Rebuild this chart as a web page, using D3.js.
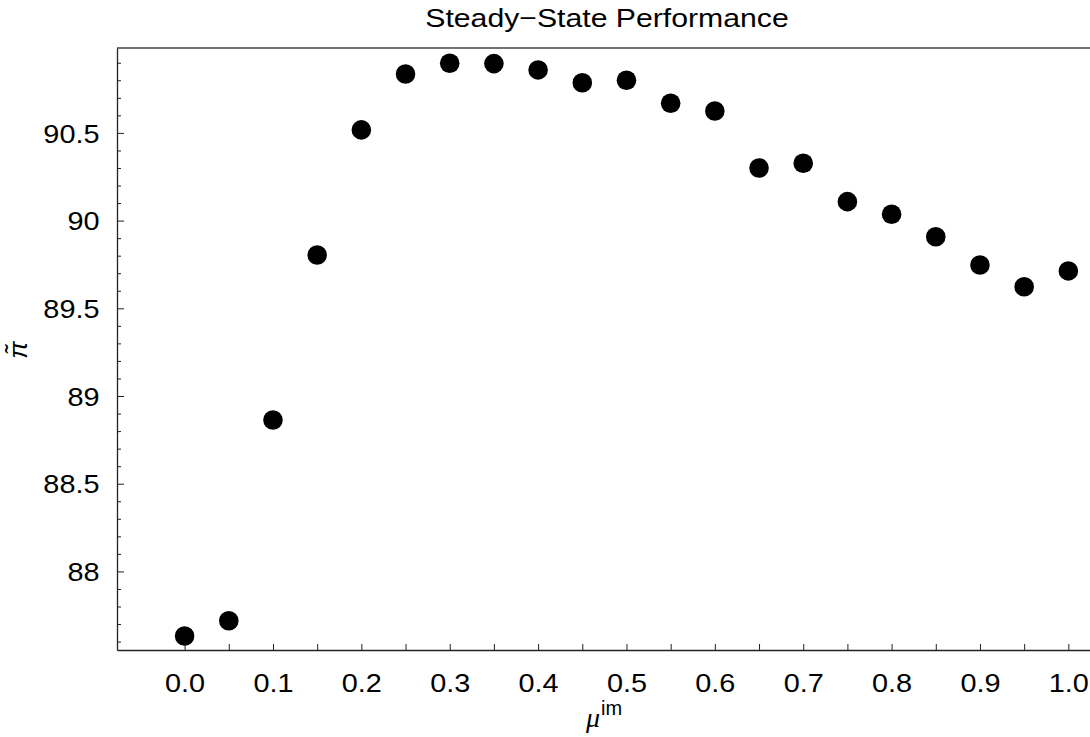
<!DOCTYPE html>
<html>
<head>
<meta charset="utf-8">
<script src="https://cdn.jsdelivr.net/npm/d3@7"></script>
<style>
html,body{margin:0;padding:0;background:#fff;}
svg{display:block;font-family:"Liberation Sans",Arial,sans-serif;}
</style>
</head>
<body>
<svg id="chart" width="1090" height="737"></svg>
<script>
const title = "Steady\u2212State Performance";
const muValues = [0.0,0.05,0.1,0.15,0.2,0.25,0.3,0.35,0.4,0.45,0.5,0.55,0.6,0.65,0.7,0.75,0.8,0.85,0.9,0.95,1.0];
const piValues = [87.632,87.719,88.863,89.804,90.517,90.836,90.897,90.895,90.859,90.786,90.80,90.669,90.625,90.300,90.327,90.108,90.036,89.908,89.747,89.623,89.713];
const xTickLabels = ["0.0","0.1","0.2","0.3","0.4","0.5","0.6","0.7","0.8","0.9","1.0"];
const yTickLabels = ["88","88.5","89","89.5","90","90.5"];

const svg = d3.select("#chart");
const pLeft = 117, pRight = 1090, pTop = 48, pBottom = 650;
const SX = 1.11;

const x = d3.scaleLinear().domain([-0.0765, 1.0245]).range([pLeft, pRight]);
const y = d3.scaleLinear().domain([87.552, 90.984]).range([pBottom, pTop]);

// title
svg.append("g").attr("transform", "translate(607,27) scale(1.14,1)")
  .append("text").attr("text-anchor", "middle")
  .attr("font-size", 26.5).attr("fill", "#000").text(title);

// frame top line
svg.append("line").attr("x1", pLeft).attr("x2", pRight).attr("y1", pTop).attr("y2", pTop)
  .attr("stroke", "#444").attr("stroke-width", 1.5);

// x axis
const xMinor = d3.range(0, 21).map(i => i * 0.05);
const xAxis = d3.axisBottom(x).tickValues(xMinor).tickSize(-6).tickSizeOuter(0)
  .tickFormat(d => { const i = Math.round(d * 20); return i % 2 === 0 ? xTickLabels[i / 2] : ""; });
const gx = svg.append("g").attr("transform", `translate(0,${pBottom})`).call(xAxis);
gx.select(".domain").attr("stroke", "#222").attr("stroke-width", 1.3);
gx.selectAll(".tick line").attr("stroke", "#222").attr("stroke-width", 1);
gx.selectAll(".tick text").attr("font-size", 26).attr("fill", "#000").attr("y", 42).attr("dy", 0)
  .attr("transform", `scale(${SX},1)`)
  .attr("font-family", "Liberation Sans, Arial, sans-serif");

// y axis
const yMinor = d3.range(0, 34).map(i => Math.round((87.6 + i * 0.1) * 10) / 10);
const yMajorVals = yTickLabels.map(Number);
const yAxis = d3.axisLeft(y).tickValues(yMinor).tickSizeOuter(0)
  .tickFormat(d => { const k = yMajorVals.findIndex(v => Math.abs(v - d) < 1e-6); return k >= 0 ? yTickLabels[k] : ""; });
const gy = svg.append("g").attr("transform", `translate(${pLeft},0)`).call(yAxis);
gy.select(".domain").attr("stroke", "#222").attr("stroke-width", 1.3);
gy.selectAll(".tick line").attr("stroke", "#222").attr("stroke-width", 1)
  .attr("x2", d => yMajorVals.some(v => Math.abs(v - d) < 1e-6) ? 7 : 4).attr("x1", 0);
gy.selectAll(".tick text").attr("font-size", 26).attr("fill", "#000").attr("x", -17.5 / SX).attr("dy", "0.35em")
  .attr("transform", `scale(${SX},1)`)
  .attr("font-family", "Liberation Sans, Arial, sans-serif");

// points
svg.append("g").selectAll("circle").data(muValues).join("circle")
  .attr("cx", d => x(d)).attr("cy", (d, i) => y(piValues[i])).attr("r", 9.8).attr("fill", "#000");

// x label
const xl = svg.append("text").attr("x", 604).attr("y", 727).attr("text-anchor", "middle").attr("font-size", 28).attr("fill", "#000");
xl.append("tspan").attr("font-style", "italic").attr("font-family", "Liberation Serif, serif").text("\u03bc");
xl.append("tspan").attr("font-size", 20).attr("dy", -12).attr("dx", 1).text("im");

// y label
svg.append("text").attr("transform", "translate(27,350) rotate(-90)").attr("text-anchor", "middle")
  .attr("font-size", 26).attr("font-style", "italic").attr("fill", "#000").text("\u03c0\u0303");
</script>
</body>
</html>
